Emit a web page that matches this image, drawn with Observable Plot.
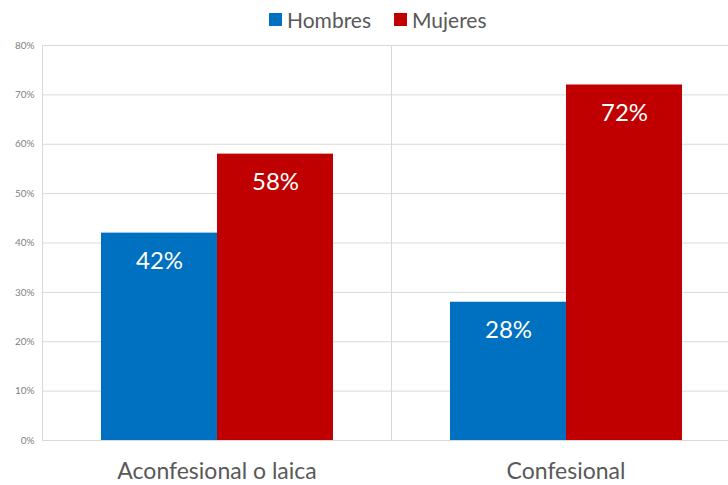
<!DOCTYPE html>
<html>
<head>
<meta charset="utf-8">
<script src="https://cdn.jsdelivr.net/npm/d3@7"></script>
<script src="https://cdn.jsdelivr.net/npm/@observablehq/plot@0.6"></script>
<style>
  html, body { margin: 0; padding: 0; background: #fff; overflow: hidden; width: 728px; height: 485px; }
  #wrap { position: relative; width: 728px; height: 485px; overflow: hidden; font-family: Lato, "Open Sans", sans-serif; }
  #legend { position: absolute; left: 0; top: 0; width: 728px; height: 40px; }
  .item { position: absolute; top: 7px; font-size: 21px; color: #595959; display: flex; align-items: center; }
  .sw { width: 13px; height: 13px; margin-right: 5px; }
  #chart { position: absolute; left: 0; top: 35px; }
  #chart svg { max-width: none !important; }
</style>
</head>
<body>
<div id="wrap">
  <div id="legend"></div>
  <div id="chart"></div>
</div>
<script>
const categories = ["Aconfesional o laica", "Confesional"];
const series = ["Hombres", "Mujeres"];
const colors = ["#0070C0", "#C00000"];
const hombres = [0.42, 0.28];
const mujeres = [0.58, 0.72];
const yTicks = [0, 0.1, 0.2, 0.3, 0.4, 0.5, 0.6, 0.7, 0.8];

const data = [];
categories.forEach((c, i) => {
  data.push({cat: c, sex: "Hombres", value: hombres[i]});
  data.push({cat: c, sex: "Mujeres", value: mujeres[i]});
});

// legend
const legend = document.getElementById("legend");
const legendLeft = [269, 394];
series.forEach((s, i) => {
  const it = document.createElement("div");
  it.className = "item";
  it.style.left = legendLeft[i] + "px";
  it.innerHTML = `<span class="sw" style="background:${colors[i]}"></span><span>${s}</span>`;
  legend.appendChild(it);
});

const fmt = d3.format(".0%");
const chart = Plot.plot({
  width: 740,
  height: 450,
  marginTop: 10,
  marginBottom: 45,
  marginLeft: 41,
  marginRight: 0,
  style: {fontFamily: "Lato, 'Open Sans', sans-serif", background: "transparent", maxWidth: "none"},
  fx: {domain: categories, padding: 0, label: null},
  x: {domain: series, paddingInner: 0, paddingOuter: 0.5, axis: null},
  y: {domain: [0, 0.8], label: null},
  color: {domain: series, range: colors},
  marks: [
    Plot.gridY(yTicks, {stroke: "#d9d9d9", strokeOpacity: 1}),
    Plot.frame({anchor: "left", stroke: "#d9d9d9", strokeOpacity: 1}),
    Plot.barY(data, {fx: "cat", x: "sex", y: "value", fill: "sex"}),
    Plot.text(data, {fx: "cat", x: "sex", y: "value", text: d => fmt(d.value), dy: 28, fill: "white", fontSize: 24}),
    Plot.axisY({ticks: yTicks, tickFormat: fmt, tickSize: 0, tickPadding: 8, fontSize: 10, fill: "#7f7f7f", label: null}),
    Plot.axisFx({anchor: "bottom", tickSize: 0, tickPadding: 22, fontSize: 23, fill: "#595959", label: null})
  ]
});
document.getElementById("chart").appendChild(chart);
</script>
</body>
</html>
